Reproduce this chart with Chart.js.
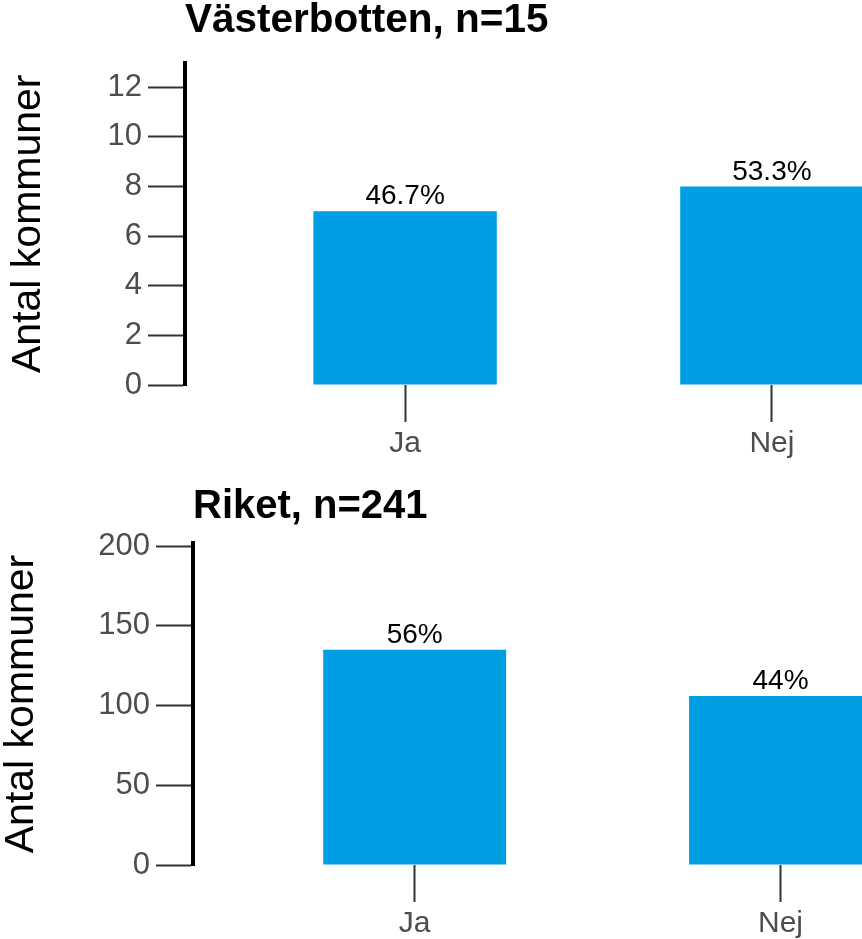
<!DOCTYPE html>
<html>
<head>
<meta charset="utf-8">
<script src="https://cdn.jsdelivr.net/npm/chart.js@4"></script>
<style>
  html, body { margin: 0; padding: 0; background: #fff; overflow: hidden; }
  body { width: 862px; height: 939px; position: relative; }
  canvas { position: absolute; left: 0; }
  #vb { top: 0; }
  #riket { top: 486px; }
</style>
</head>
<body>
<canvas id="vb" width="1010" height="470" style="width:1010px;height:470px"></canvas>
<canvas id="riket" width="1010" height="470" style="width:1010px;height:470px"></canvas>
<script>
// data
const categories = ['Ja', 'Nej'];

const vbTitle = 'Västerbotten, n=15';
const vbCounts = [7, 8];
const vbLabels = ['46.7%', '53.3%'];
const vbYTicks = [0, 2, 4, 6, 8, 10, 12];

const riketTitle = 'Riket, n=241';
const riketCounts = [135, 106];
const riketLabels = ['56%', '44%'];
const riketYTicks = [0, 50, 100, 150, 200];

const BAR_COLOR = '#009fe3';
const FONT = "'Liberation Sans', Arial, sans-serif";

Chart.defaults.font.family = FONT;

// percent text above each bar
const barLabelPlugin = {
    id: 'barLabels',
    afterDatasetsDraw(chart, args, opts) {
        const ctx = chart.ctx;
        const meta = chart.getDatasetMeta(0);
        ctx.save();
        ctx.font = '28px ' + FONT;
        ctx.fillStyle = '#000';
        ctx.textAlign = 'center';
        ctx.textBaseline = 'alphabetic';
        meta.data.forEach((bar, i) => {
            ctx.fillText(opts.labels[i], bar.x, bar.y - 7);
        });
        ctx.restore();
    },
};

function drawPanel(id, s) {
    return new Chart(document.getElementById(id), {
        type: 'bar',
        data: {
            datasets: [{
                data: categories.map((c, i) => ({ x: i + 1, y: s.counts[i] })),
                backgroundColor: BAR_COLOR,
                borderWidth: 0,
                barPercentage: 0.5,
                categoryPercentage: 1,
            }],
        },
        plugins: [barLabelPlugin],
        options: {
            responsive: false,
            animation: false,
            devicePixelRatio: 1,
            layout: { padding: { top: 0, left: 0, right: s.padRight, bottom: 0 } },
            plugins: {
                legend: { display: false },
                tooltip: { enabled: false },
                barLabels: { labels: s.labels },
                title: {
                    display: true,
                    text: s.title,
                    align: 'start',
                    fullSize: false,
                    color: '#000',
                    font: { size: s.titleSize, weight: 'bold', lineHeight: 1 },
                    padding: { top: 1, bottom: s.titleGap },
                },
            },
            scales: {
                x: {
                    type: 'linear',
                    min: s.xMin,
                    max: 2.6,
                    offset: false,
                    afterBuildTicks: (scale) => {
                        scale.ticks = categories.map((c, i) => ({ value: i + 1 }));
                    },
                    afterFit: (scale) => { scale.height = s.xHeight; },
                    ticks: {
                        callback: (v) => categories[v - 1],
                        color: '#4d4d4d',
                        font: { size: 30 },
                        padding: 4,
                        maxRotation: 0,
                    },
                    grid: {
                        offset: false,
                        drawOnChartArea: false,
                        tickLength: 37,
                        tickColor: '#333',
                        tickWidth: 2,
                    },
                    border: { display: false },
                },
                y: {
                    min: 0,
                    max: s.yMax,
                    afterBuildTicks: (scale) => {
                        scale.ticks = s.yTicks.map(v => ({ value: v }));
                    },
                    afterFit: (scale) => { scale.width = s.yWidth; },
                    ticks: {
                        color: '#4d4d4d',
                        font: { size: 31 },
                        padding: 6,
                    },
                    grid: {
                        drawOnChartArea: false,
                        tickLength: 37,
                        tickColor: '#333',
                        tickWidth: 2,
                    },
                    border: { display: true, color: '#000', width: 4 },
                    title: {
                        display: true,
                        text: 'Antal kommuner',
                        color: '#000',
                        font: { size: 41, lineHeight: 1 },
                        padding: { top: s.yTitlePad, bottom: 0 },
                    },
                },
            },
        },
    });
}

drawPanel('vb', {
    title: vbTitle, counts: vbCounts, labels: vbLabels, yTicks: vbYTicks, titleSize: 40.5,
    xMin: 0.4, yMax: 13, yWidth: 185, xHeight: 85, titleGap: 21, padRight: 18, yTitlePad: 8.5,
});

drawPanel('riket', {
    title: riketTitle, counts: riketCounts, labels: riketLabels, yTicks: riketYTicks, titleSize: 40,
    xMin: 0.394, yMax: 202, yWidth: 193, xHeight: 91, titleGap: 16, padRight: 10, yTitlePad: 1,
});
</script>
</body>
</html>
